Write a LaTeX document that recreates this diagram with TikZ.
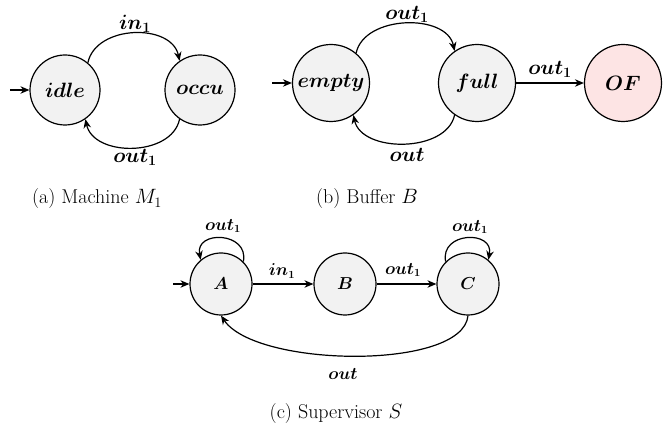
\documentclass[tikz,border=0pt]{standalone}
\usepackage{amsmath}
\usetikzlibrary{arrows.meta}
\definecolor{stategray}{HTML}{F2F2F2}
\definecolor{statepink}{HTML}{FDE4E4}
\begin{document}
\begin{tikzpicture}[x=1pt,y=-1pt,
  big/.style={font=\fontsize{21}{24}\selectfont\boldmath},
  small/.style={font=\fontsize{16}{18}\selectfont\boldmath},
  stbig/.style={circle, draw, line width=1.2pt, fill=stategray, inner sep=0pt, big},
  stsmall/.style={circle, draw, line width=1.2pt, fill=stategray, inner sep=0pt,
    minimum size=62pt, small},
  trans/.style={line width=1.2pt, -{Stealth[length=9pt,width=7.5pt]}},
  lbl/.style={inner sep=1pt},
  captext/.style={font=\fontsize{20}{23}\selectfont}]
\useasboundingbox (0,0) rectangle (664,427);

% (a) Machine M1
\node[stbig, minimum size=70pt] (idle) at (65,90) {$idle$};
\node[stbig, minimum size=70pt] (occu) at (200,90) {$occu$};
\coordinate (ia) at (10,90);
\draw[trans] (ia) -- (idle);
\draw[trans] (idle.50) .. controls +(8,-38) and +(-8,-38) .. (occu.125);
\draw[trans] (occu.235) .. controls +(-8,38) and +(8,38) .. (idle.305);
\node[lbl, big] (la1) at (135,24) {$in_1$};
\node[lbl, big] (la2) at (135,157) {$out_1$};
\node[captext] (capa) at (97,199) {(a) Machine $M_1$};

% (b) Buffer B
\node[stbig, minimum size=77pt] (empty) at (331,83) {$empty$};
\node[stbig, minimum size=77pt] (full) at (477,83) {$full$};
\node[stbig, minimum size=77pt, fill=statepink] (of) at (623,83) {$OF$};
\coordinate (ib) at (272,83);
\draw[trans] (ib) -- (empty);
\draw[trans] (empty.50) .. controls +(8,-38) and +(-8,-38) .. (full.125);
\draw[trans] (full.235) .. controls +(-8,38) and +(8,38) .. (empty.305);
\draw[trans] (full) -- (of);
\node[lbl, big] (lb1) at (407,14) {$out_1$};
\node[lbl, big] (lb2) at (407,155) {$out$};
\node[lbl, big] (lb3) at (550,69) {$out_1$};
\node[captext] (capb) at (367,199) {(b) Buffer $B$};

% (c) Supervisor S
\node[stsmall] (A) at (221,284) {$A$};
\node[stsmall] (B) at (345,284) {$B$};
\node[stsmall] (C) at (468,284) {$C$};
\coordinate (ic) at (173,284);
\draw[trans] (ic) -- (A);
\draw[trans] (A) -- (B);
\draw[trans] (B) -- (C);
\draw[trans] (A.45) .. controls +(6,-30) and +(-6,-30) .. (A.130);
\draw[trans] (C.135) .. controls +(-6,-30) and +(6,-30) .. (C.50);
\draw[trans] (C.south) .. controls +(-5,55) and +(35,52) .. (A.south);
\node[lbl, small] (lc1) at (223,226) {$out_1$};
\node[lbl, small] (lc2) at (470,227) {$out_1$};
\node[lbl, small] (lc3) at (282,271) {$in_1$};
\node[lbl, small] (lc4) at (403,270) {$out_1$};
\node[lbl, small] (lc5) at (343,374) {$out$};
\node[captext] (capc) at (336,414) {(c) Supervisor $S$};
\end{tikzpicture}
\end{document}
